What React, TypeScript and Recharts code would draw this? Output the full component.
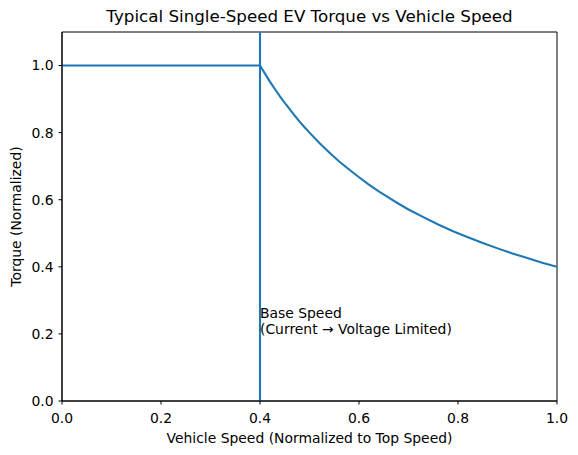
import React from "react";
import {
  ComposedChart,
  Line,
  Scatter,
  XAxis,
  YAxis,
  ReferenceLine,
  ReferenceArea,
  Label,
} from "recharts";

// Normalized vehicle speed and the matching normalized torque
const speed = [
  0, 0.4, 0.41, 0.42, 0.43, 0.44, 0.45, 0.46, 0.47, 0.48, 0.49, 0.5, 0.52, 0.54, 0.56, 0.58, 0.6,
  0.62, 0.64, 0.66, 0.68, 0.7, 0.73, 0.76, 0.79, 0.82, 0.85, 0.88, 0.91, 0.94, 0.97, 1.0,
];
const torque = [
  1.0, 1.0, 0.976, 0.952, 0.93, 0.909, 0.889, 0.87, 0.851, 0.833, 0.816, 0.8, 0.769, 0.741, 0.714,
  0.69, 0.667, 0.645, 0.625, 0.606, 0.588, 0.571, 0.548, 0.526, 0.506, 0.488, 0.471, 0.455, 0.44,
  0.426, 0.412, 0.4,
];

const baseSpeed = 0.4;
const annotationTorque = 0.2;
const annotationLines = ["Base Speed", "(Current \u2192 Voltage Limited)"];

const xTicks = [0, 0.2, 0.4, 0.6, 0.8, 1.0];
const yTicks = [0, 0.2, 0.4, 0.6, 0.8, 1.0];

const curve = speed.map((s, i) => ({ speed: s, torque: torque[i] }));
const annotation = [{ speed: baseSpeed, torque: annotationTorque }];

const FONT = "DejaVu Sans, sans-serif";
const BLUE = "#1f77b4";
const W = 578;
const H = 455;

const AnnotationText = (props: any) => {
  const { cx, cy } = props;
  return (
    <text x={cx} y={cy} fontFamily={FONT} fontSize={13.9} fill="#000">
      <tspan x={cx} dy={-16.2}>{annotationLines[0]}</tspan>
      <tspan x={cx} dy={16.2}>{annotationLines[1]}</tspan>
    </text>
  );
};

export default function App() {
  const tickStyle = { fontFamily: FONT, fontSize: 13.9, fill: "#000" };
  return (
    <div style={{ position: "absolute", left: 0, top: 0, width: W, height: H, background: "#fff" }}>
      <div
        style={{
          position: "absolute",
          left: 62,
          width: 495,
          top: 6,
          textAlign: "center",
          fontFamily: FONT,
          fontSize: 16.7,
          lineHeight: "20px",
          color: "#000",
          whiteSpace: "nowrap",
        }}
      >
        Typical Single-Speed EV Torque vs Vehicle Speed
      </div>
      <ComposedChart
        width={W}
        height={H}
        margin={{ top: 32, right: 21, bottom: 0, left: 0 }}
        data={curve}
      >
        <XAxis
          type="number"
          dataKey="speed"
          domain={[0, 1]}
          ticks={xTicks}
          tickFormatter={(v: number) => v.toFixed(1)}
          tick={tickStyle}
          tickSize={3.5}
          tickMargin={8.5}
          height={54}
          stroke="#000"
          axisLine={{ stroke: "#000", strokeWidth: 1 }}
          tickLine={{ stroke: "#000", strokeWidth: 1 }}
          allowDataOverflow
        >
          <Label
            value="Vehicle Speed (Normalized to Top Speed)"
            position="insideBottom"
            offset={12}
            style={{ fontFamily: FONT, fontSize: 13.9, fill: "#000" }}
          />
        </XAxis>
        <YAxis
          type="number"
          dataKey="torque"
          domain={[0, 1.1]}
          ticks={yTicks}
          tickFormatter={(v: number) => v.toFixed(1)}
          tick={tickStyle}
          tickSize={3.5}
          tickMargin={5}
          width={62}
          stroke="#000"
          axisLine={{ stroke: "#000", strokeWidth: 1 }}
          tickLine={{ stroke: "#000", strokeWidth: 1 }}
          allowDataOverflow
        >
          <Label
            value="Torque (Normalized)"
            angle={-90}
            position="insideLeft"
            offset={16}
            style={{ fontFamily: FONT, fontSize: 13.9, fill: "#000", textAnchor: "middle" }}
          />
        </YAxis>
        <ReferenceArea
          x1={0}
          x2={1}
          y1={0}
          y2={1.1}
          fill="none"
          fillOpacity={0}
          stroke="#000"
          strokeWidth={1}
          ifOverflow="visible"
        />
        <ReferenceLine x={baseSpeed} stroke={BLUE} strokeWidth={2.1} />
        <Line
          type="linear"
          dataKey="torque"
          stroke={BLUE}
          strokeWidth={2.1}
          dot={false}
          activeDot={false}
          isAnimationActive={false}
        />
        <Scatter
          data={annotation}
          dataKey="torque"
          shape={AnnotationText}
          isAnimationActive={false}
        />
      </ComposedChart>
    </div>
  );
}
